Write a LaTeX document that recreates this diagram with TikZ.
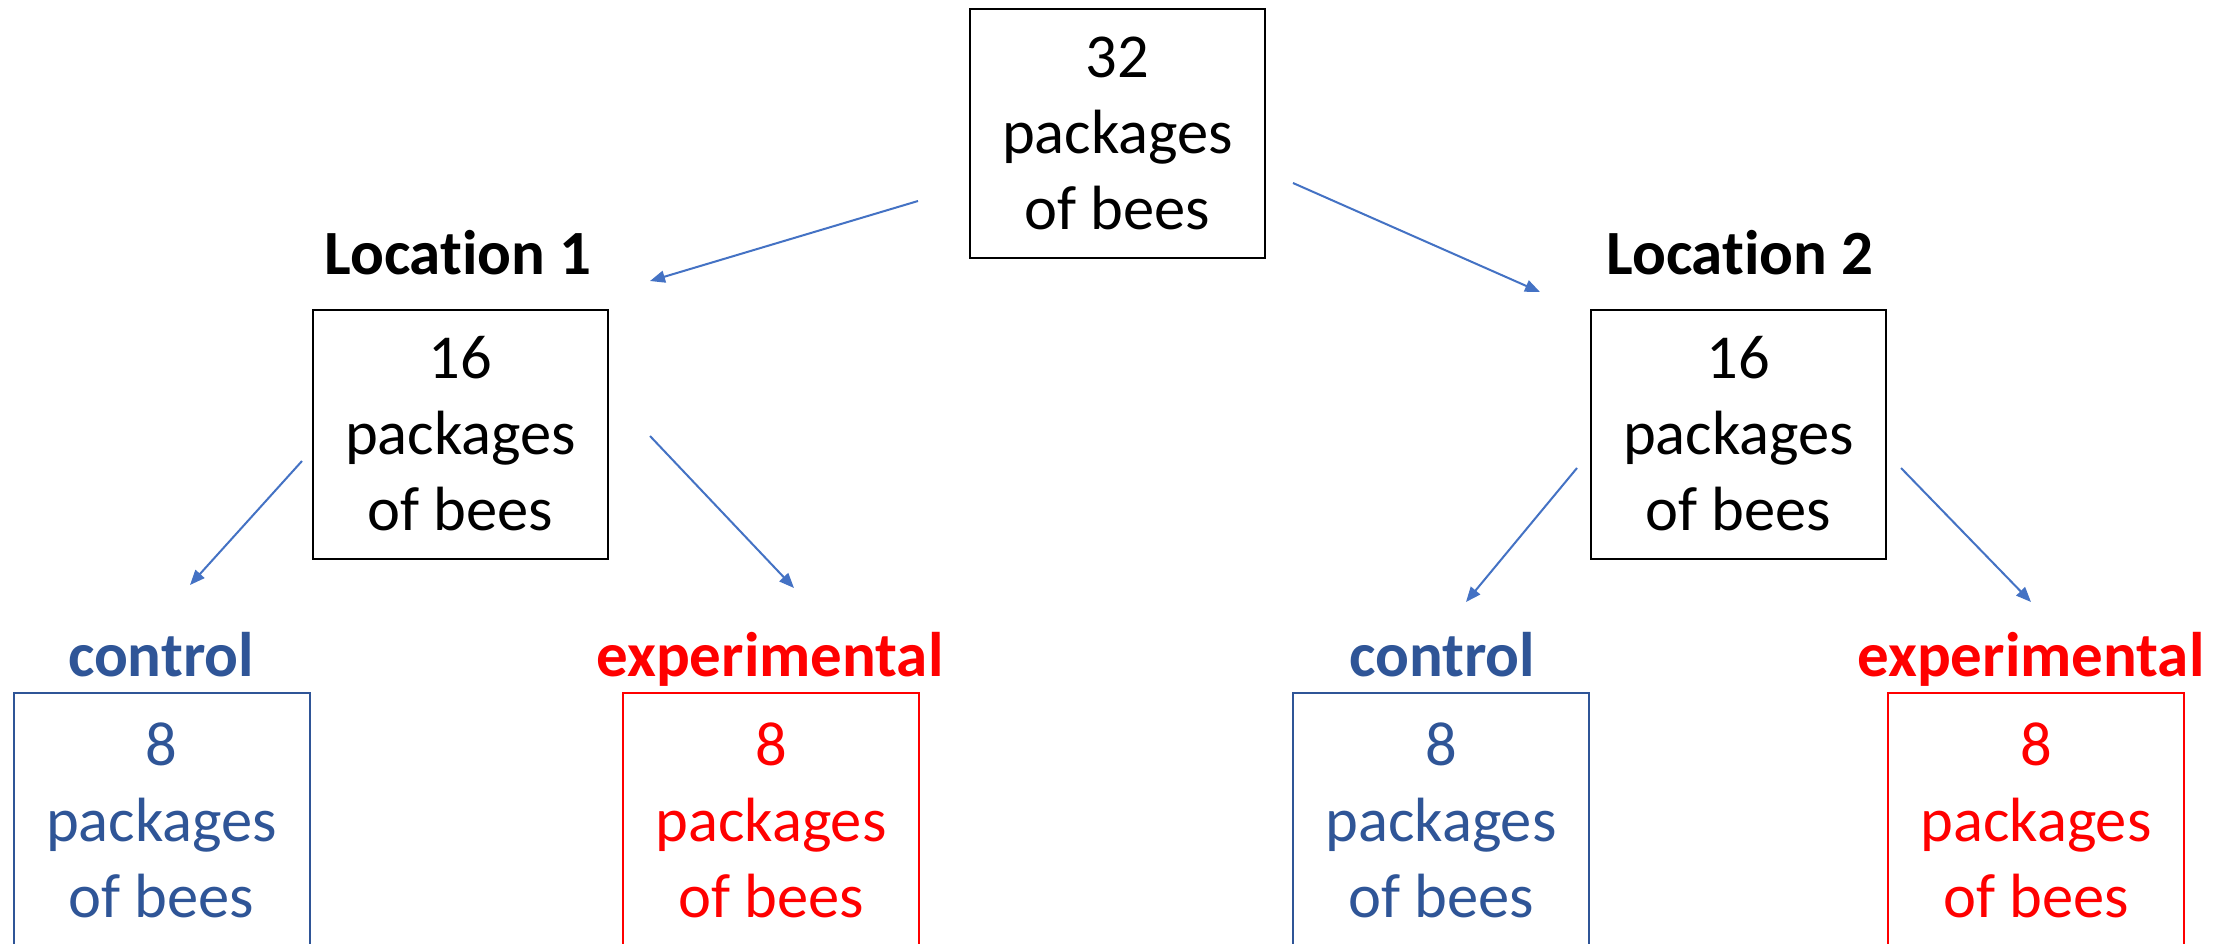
\documentclass[tikz,border=0pt]{standalone}
\usepackage{fontspec}
\setmainfont[Ligatures={NoCommon}]{Carlito}
\usetikzlibrary{arrows.meta}
\definecolor{arrowblue}{HTML}{4472C4}
\definecolor{ctrlblue}{HTML}{2F5597}
\definecolor{expred}{HTML}{FF0000}
\begin{document}
\begin{tikzpicture}[x=1pt,y=-1pt,
  box/.style={draw,line width=2pt,inner sep=0pt,align=center,
    font=\fontsize{62.5}{76}\selectfont},
  bigbox/.style={box,minimum width=295pt,minimum height=249pt},
  smallbox/.style={box,minimum width=296pt,minimum height=254pt},
  lab/.style={anchor=base,inner sep=0pt,font=\fontsize{63}{76}\selectfont\bfseries},
  conn/.style={draw=arrowblue,line width=2pt,-{Triangle[length=15pt,width=12pt]}}]
\useasboundingbox (0,0) rectangle (2236,943);
\fill[white] (0,0) rectangle (2236,943);
% boxes
\node[bigbox] (top) at (1117.5,133.5) {32\\packages\\of bees};
\node[bigbox] (l1) at (460.5,434) {16\\packages\\of bees};
\node[bigbox] (l2) at (1738.5,434) {16\\packages\\of bees};
\node[smallbox,draw=ctrlblue,text=ctrlblue] (c1) at (161.5,820) {8\\packages\\of bees};
\node[smallbox,draw=expred,text=expred] (e1) at (771,820) {8\\packages\\of bees};
\node[smallbox,draw=ctrlblue,text=ctrlblue] (c2) at (1441,820) {8\\packages\\of bees};
\node[smallbox,draw=expred,text=expred] (e2) at (2036,820) {8\\packages\\of bees};
% labels
\node[lab] (lab1) at (458,274) {Location 1};
\node[lab] (lab2) at (1740,274) {Location 2};
\node[lab,text=ctrlblue] (labc1) at (161,676) {control};
\node[lab,text=expred] (labe1) at (770,676) {experimental};
\node[lab,text=ctrlblue] (labc2) at (1442,676) {control};
\node[lab,text=expred] (labe2) at (2031,676) {experimental};
% connector ends
\coordinate (a1s) at (918,201); \coordinate (a1e) at (650,281);
\coordinate (a2s) at (1293,183); \coordinate (a2e) at (1540,292);
\coordinate (a3s) at (302,461); \coordinate (a3e) at (190,585);
\coordinate (a4s) at (650,436); \coordinate (a4e) at (794,588);
\coordinate (a5s) at (1577,468); \coordinate (a5e) at (1466,602);
\coordinate (a6s) at (1901,468); \coordinate (a6e) at (2031,602);
\draw[conn] (a1s) -- (a1e);
\draw[conn] (a2s) -- (a2e);
\draw[conn] (a3s) -- (a3e);
\draw[conn] (a4s) -- (a4e);
\draw[conn] (a5s) -- (a5e);
\draw[conn] (a6s) -- (a6e);
\end{tikzpicture}
\end{document}
